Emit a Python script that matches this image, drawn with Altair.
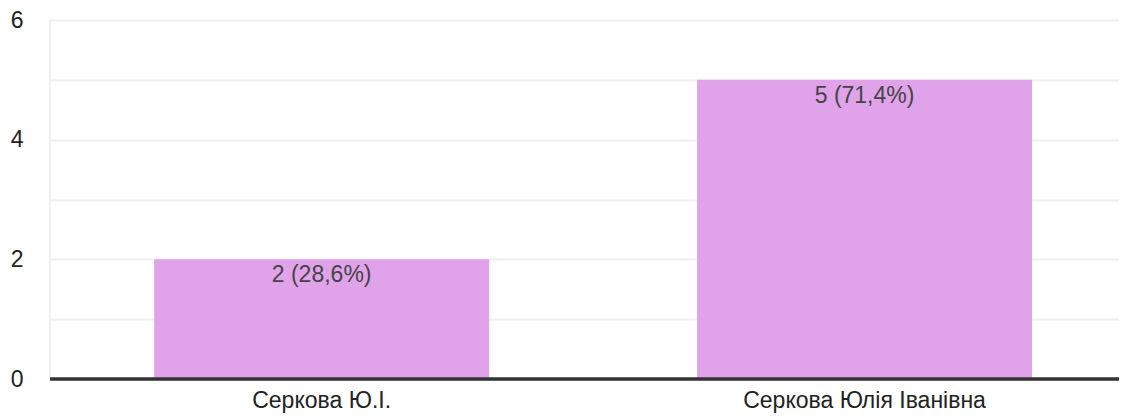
import altair as alt
import pandas as pd

categories = ["Серкова Ю.І.", "Серкова Юлія Іванівна"]
counts = [2, 5]
bar_labels = ["2 (28,6%)", "5 (71,4%)"]

df = pd.DataFrame({"name": categories, "count": counts, "label": bar_labels})

W = 1069
H = 359
FONT = "Liberation Sans, Arial, sans-serif"

x = alt.X("name:N", sort=categories, title=None,
          scale=alt.Scale(paddingInner=0.383, paddingOuter=0.176, align=0.545),
          axis=alt.Axis(labelAngle=0, labelFontSize=23, labelFont=FONT, labelColor="#222222",
                        labelPadding=10, labelLimit=500, ticks=False, domain=False, grid=False))
y = alt.Y("count:Q", title=None,
          scale=alt.Scale(domain=[0, 6], nice=False),
          axis=alt.Axis(values=[0, 1, 2, 3, 4, 5, 6], format="d",
                        labelExpr="datum.value % 2 == 0 ? datum.label : ''",
                        labelFontSize=23, labelFont=FONT, labelColor="#222222",
                        labelPadding=27, ticks=False, domain=False,
                        gridColor="#efefef", gridWidth=2))

base = alt.Chart(df)

bars = base.mark_bar(color="#e0a3ea").encode(x=x, y=y)

texts = base.mark_text(baseline="top", dy=5, fontSize=23, font=FONT, color="#444444").encode(
    x=alt.X("name:N", sort=categories), y="count:Q", text="label:N")

left_line = alt.Chart(df).mark_rule(color="#efefef", strokeWidth=2).encode(
    x=alt.value(0), y=alt.value(0), y2=alt.value(H))

baseline = alt.Chart(df).mark_rule(color="#333333", strokeWidth=3).encode(
    x=alt.value(0), x2=alt.value(W), y=alt.value(H))

chart = alt.layer(left_line, bars, texts, baseline).properties(
    width=W, height=H,
    padding={"left": 42, "top": 12, "right": 0, "bottom": 36},
    autosize=alt.AutoSizeParams(type="none"),
).configure_view(stroke=None).configure(background="white")

chart.save("out.html", embed_options={"renderer": "svg", "actions": False})
